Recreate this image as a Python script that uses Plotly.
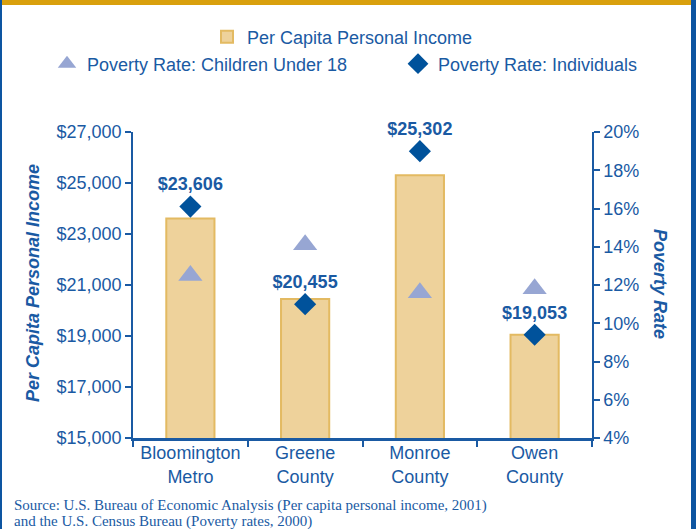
import plotly.graph_objects as go

# ---------------- data ----------------
categories = ["Bloomington<br>Metro", "Greene<br>County", "Monroe<br>County", "Owen<br>County"]
income = [23606, 20455, 25302, 19053]
poverty_children = [12.5, 14.1, 11.6, 11.8]
poverty_individuals = [16.1, 11.0, 19.0, 9.4]
income_ticks = [15000, 17000, 19000, 21000, 23000, 25000, 27000]
income_tick_labels = ["$15,000", "$17,000", "$19,000", "$21,000", "$23,000", "$25,000", "$27,000"]
rate_ticks = [4, 6, 8, 10, 12, 14, 16, 18, 20]
rate_tick_labels = ["4%", "6%", "8%", "10%", "12%", "14%", "16%", "18%", "20%"]
source_lines = [
    "Source: U.S. Bureau of Economic Analysis (Per capita personal income, 2001)",
    "and the U.S. Census Bureau (Poverty rates, 2000)",
]

# ---------------- style ----------------
W, H = 696, 529
ML, MR, MT, MB = 133, 104, 132, 91
BLUE = "#1a5aa3"
DARK = "#00529b"
TRI = "#97a6d3"
BAR = "#eed29b"
BAR_LINE = "#e3ba62"
GOLD = "#d9a00d"
FONT = "Liberation Sans, Arial, sans-serif"
SERIF = "Liberation Serif, Times New Roman, serif"

pw, ph = W - ML - MR, H - MT - MB


def px_x(px):
    return (px - ML) / pw


def px_y(py):
    return (H - MB - py) / ph


fig = go.Figure()

fig.add_trace(go.Bar(
    x=categories, y=income, name="Per Capita Personal Income",
    marker=dict(color=BAR, line=dict(color=BAR_LINE, width=2)),
    width=0.42, legend="legend", yaxis="y",
))
fig.add_trace(go.Scatter(
    x=categories, y=poverty_children, name="Poverty Rate: Children Under 18",
    mode="markers", marker=dict(symbol="triangle-up", size=21, color=TRI),
    yaxis="y2", legend="legend2",
))
fig.add_trace(go.Scatter(
    x=categories, y=poverty_individuals, name="Poverty Rate: Individuals",
    mode="markers+text", marker=dict(symbol="diamond", size=17, color=DARK),
    text=[f"${v:,}" for v in income], textposition="top center",
    textfont=dict(family=FONT, size=18, color=BLUE, weight="bold"),
    cliponaxis=False, yaxis="y2", legend="legend3",
))

tickfont = dict(family=FONT, size=18, color=BLUE)
legfont = dict(family=FONT, size=18, color=BLUE)


def legend_at(left_px, mid_px):
    return dict(
        xref="container", yref="container", x=left_px / W, xanchor="left",
        y=1 - mid_px / H, yanchor="middle", orientation="h",
        font=legfont, bgcolor="rgba(0,0,0,0)",
    )


fig.update_layout(
    width=W, height=H,
    margin=dict(l=ML, r=MR, t=MT, b=MB),
    paper_bgcolor="white", plot_bgcolor="white",
    showlegend=True,
    xaxis=dict(
        type="category", categoryorder="array", categoryarray=categories,
        range=[-0.5, 3.5], tickson="boundaries", ticks="outside", ticklen=6,
        tickcolor=BLUE, tickwidth=1.5, showline=True, linecolor=BLUE, linewidth=2.5,
        tickfont=tickfont, showgrid=False, zeroline=False, ticklabelstandoff=-3,
    ),
    xaxis2=dict(
        overlaying="x", anchor="y", range=[-0.5, 3.5],
        tickvals=[-0.5, 0.5, 1.5, 2.5, 3.5], ticks="inside", ticklen=6,
        tickcolor=BLUE, tickwidth=1.5, showticklabels=False, showline=False,
        showgrid=False, zeroline=False,
    ),
    yaxis=dict(
        range=[15000, 27000], tickvals=income_ticks, ticktext=income_tick_labels,
        ticks="outside", ticklen=6, tickcolor=BLUE, tickwidth=1.5,
        showline=True, linecolor=BLUE, linewidth=1.5, tickfont=tickfont,
        showgrid=False, zeroline=False,
    ),
    yaxis3=dict(
        overlaying="y", anchor="x", side="left", range=[15000, 27000],
        tickvals=income_ticks, ticks="inside", ticklen=6, tickcolor=BLUE, tickwidth=1.5,
        showticklabels=False, showline=False, showgrid=False, zeroline=False,
    ),
    yaxis2=dict(
        overlaying="y", side="right", anchor="x", range=[4, 20], tickvals=rate_ticks,
        ticktext=rate_tick_labels, ticks="outside", ticklen=6, tickcolor=BLUE, tickwidth=1.5,
        showline=True, linecolor=BLUE, linewidth=1.5, tickfont=tickfont,
        showgrid=False, zeroline=False,
    ),
    yaxis4=dict(
        overlaying="y", side="right", anchor="x", range=[4, 20], tickvals=rate_ticks,
        ticks="inside", ticklen=6, tickcolor=BLUE, tickwidth=1.5,
        showticklabels=False, showline=False, showgrid=False, zeroline=False,
    ),
    legend=legend_at(207, 37),
    legend2=legend_at(47, 64),
    legend3=legend_at(398, 64),
    annotations=[
        dict(text="<b><i>Per Capita Personal Income</i></b>", xref="paper", yref="paper",
             x=px_x(33), y=px_y(283), textangle=-90, showarrow=False,
             font=dict(family=FONT, size=18, color=BLUE), xanchor="center", yanchor="middle"),
        dict(text="<b><i>Poverty Rate</i></b>", xref="paper", yref="paper",
             x=px_x(660), y=px_y(284), textangle=90, showarrow=False,
             font=dict(family=FONT, size=18, color=BLUE), xanchor="center", yanchor="middle"),
        dict(text=source_lines[0], xref="paper", yref="paper", x=px_x(12), y=px_y(505),
             xanchor="left", yanchor="middle", showarrow=False,
             font=dict(family=SERIF, size=15, color=BLUE)),
        dict(text=source_lines[1], xref="paper", yref="paper", x=px_x(12), y=px_y(521),
             xanchor="left", yanchor="middle", showarrow=False,
             font=dict(family=SERIF, size=15, color=BLUE)),
    ],
    shapes=[
        dict(type="rect", xref="paper", yref="paper", x0=px_x(0), x1=px_x(W),
             y0=px_y(5), y1=px_y(0), fillcolor=GOLD, line=dict(width=0), layer="above"),
        dict(type="rect", xref="paper", yref="paper", x0=px_x(0), x1=px_x(2),
             y0=px_y(H), y1=px_y(0), fillcolor="#0d55a1", line=dict(width=0), layer="above"),
        dict(type="rect", xref="paper", yref="paper", x0=px_x(691), x1=px_x(W),
             y0=px_y(H), y1=px_y(0), fillcolor="#0d55a1", line=dict(width=0), layer="above"),
    ],
)

fig.write_html(
    "out.html",
    config={"displayModeBar": False},
    post_script="document.body.style.margin='0';document.body.style.overflow='hidden';",
)
